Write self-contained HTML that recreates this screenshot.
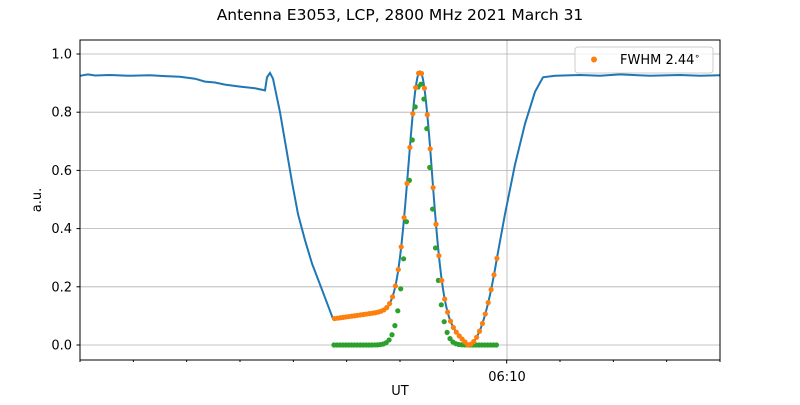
<!DOCTYPE html>
<html><head><meta charset="utf-8"><style>
body{margin:0;background:#fff;width:800px;height:400px;overflow:hidden}
text{font-family:"DejaVu Sans","Liberation Sans",sans-serif;fill:#000}
</style></head><body>
<svg id="s" width="800" height="400" viewBox="0 0 800 400" xmlns="http://www.w3.org/2000/svg">
<text x="400" y="20" font-size="15.5" text-anchor="middle">Antenna E3053, LCP, 2800 MHz 2021 March 31</text>
<g id="grid" stroke="#b0b0b0" stroke-width="0.8"></g>
<g id="data"></g>
<rect x="80" y="40" width="640" height="320" fill="none" stroke="#000" stroke-width="1"/>
<g id="ax"></g>
<text x="400" y="400" font-size="13" text-anchor="middle" dy="-5">UT</text>
<text transform="translate(41,200) rotate(-90)" font-size="13" text-anchor="middle">a.u.</text>
<g>
<rect x="575" y="47" width="138" height="26" rx="3" fill="#fff" fill-opacity="0.8" stroke="#ccc"/>
<circle cx="594" cy="59.5" r="3" fill="#ff7f0e"/>
<text x="620" y="64" font-size="13">FWHM 2.44<tspan dy="-5" font-size="9">∘</tspan></text>
</g>
</svg>
<script>
const NS="http://www.w3.org/2000/svg";
function el(p,t,a){const e=document.createElementNS(NS,t);for(const k in a)e.setAttribute(k,a[k]);p.appendChild(e);return e;}
const Y=v=>345-v*291;
const grid=document.getElementById('grid'),ax=document.getElementById('ax'),data=document.getElementById('data');
for(let i=0;i<=5;i++){const v=i*0.2,y=Y(v);
el(grid,'line',{x1:80,x2:720,y1:y,y2:y});
el(ax,'line',{x1:76.5,x2:80,y1:y,y2:y,stroke:'#000'});
const t=el(ax,'text',{x:72,y:y+4.5,'font-size':13,'text-anchor':'end'});t.textContent=v.toFixed(1);}
el(grid,'line',{x1:507,x2:507,y1:40,y2:360});
for(let i=0;i<=12;i++){const x=80+i*640/12;el(ax,'line',{x1:x,x2:x,y1:360,y2:i==8?363.5:362,stroke:'#000'});}
const tl=el(ax,'text',{x:507,y:381,'font-size':13,'text-anchor':'middle'});tl.textContent='06:10';
const A=[[80,.925],[88,.93],[95,.926],[110,.928],[130,.925],[150,.927],[165,.924],[180,.922],[195,.915],[205,.905],[215,.902],[225,.895],[240,.888],[255,.882],[265,.875],[267,.92],[270,.935],[273,.915],[280,.8],[286,.68],[292,.56],[298,.45],[305,.36],[312,.28],[322,.19],[333,.09]];
const B=[[497,.3],[505,.45],[515,.62],[525,.76],[535,.87],[543,.92],[555,.925],[580,.928],[600,.925],[620,.93],[650,.925],[680,.928],[700,.925],[720,.927]];
function mid(x){let b;if(x<=405)b=.09+.035*(x-333)/72;else if(x<=430)b=.125;else if(x<=468)b=.125*(468-x)/38;else b=.3*Math.pow((x-468)/29,2);
return b+0.815*Math.exp(-Math.pow(x-420,2)/(2*11.5*11.5));}
const pts=[...A];for(let x=334;x<497;x+=1)pts.push([x,mid(x)]);pts.push(...B);
el(data,'polyline',{points:pts.map(p=>p[0]+','+Y(p[1]).toFixed(1)).join(' '),fill:'none',stroke:'#1f77b4','stroke-width':2});
for(let x=334;x<=498;x+=2.9){el(data,'circle',{cx:x,cy:Y(0.9*Math.exp(-Math.pow(x-420,2)/(2*11*11))),r:2.6,fill:'#2ca02c'});}
for(let x=334.5;x<=497;x+=2.9){el(data,'circle',{cx:x,cy:Y(mid(x)),r:2.6,fill:'#ff7f0e'});}
</script>
</body></html>
